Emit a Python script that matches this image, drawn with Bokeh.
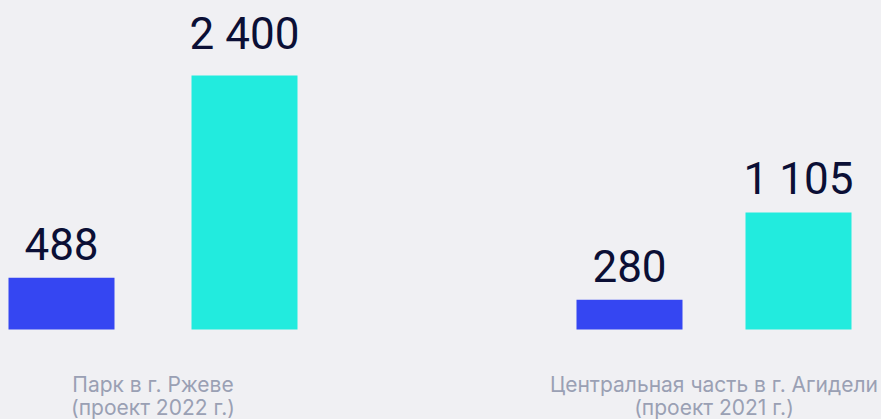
from bokeh.plotting import figure
from bokeh.models import ColumnDataSource, Range1d
from bokeh.core.properties import value
from bokeh.embed import file_html
from bokeh.resources import INLINE

# ---- data ----
categories = ["Парк в г. Ржеве\n(проект 2022 г.)",
              "Центральная часть в г. Агидели\n(проект 2021 г.)"]
series_a = [488, 280]      # blue
series_b = [2400, 1105]    # cyan

# ---- layout / style ----
W, H = 881, 419
BG = "#f0f0f3"
BLUE = "#3546f2"
CYAN = "#22ebde"
NAVY = "#0b0f35"
GREY = "#9aa0b4"
bar_x_a = [61, 629]
bar_x_b = [244, 798]
group_x = [(a + b) / 2 for a, b in zip(bar_x_a, bar_x_b)]
bar_w = 106
base_px = 329          # screen y of the zero line
top_px = 75            # screen y of the max value
vmax = max(series_b)
k = (base_px - top_px) / vmax
y0 = -(H - base_px) / k
y1 = y0 + H / k

def fmt(v):
    return f"{v:,}".replace(",", " ")

p = figure(width=W, height=H, output_backend="svg", toolbar_location=None,
           x_range=Range1d(0, W), y_range=Range1d(y0, y1), min_border=0,
           background_fill_color=BG, border_fill_color=BG, outline_line_color=None)
p.axis.visible = False
p.grid.visible = False

src_a = ColumnDataSource(dict(x=bar_x_a, top=series_a, lab=[fmt(v) for v in series_a],
                              off=[-34] * len(series_a)))
src_b = ColumnDataSource(dict(x=bar_x_b, top=series_b, lab=[fmt(v) for v in series_b],
                              off=[-42 if v == vmax else -34 for v in series_b]))

for src, col in ((src_a, BLUE), (src_b, CYAN)):
    p.vbar(x="x", top="top", bottom=0, width=bar_w, source=src,
           fill_color=col, line_color=None)
    p.text(x="x", y="top", text="lab", y_offset="off", source=src,
           text_align="center", text_baseline="alphabetic",
           text_font=value("Roboto"), text_font_size="44px", text_color=NAVY)

line1 = [c.split("\n")[0] for c in categories]
line2 = [c.split("\n")[1] for c in categories]
for lines, off in ((line1, 55), (line2, 78)):
    p.text(x=group_x, y=[0] * len(lines), text=lines, y_offset=off,
           text_align="center", text_baseline="alphabetic",
           text_font=value("Inter"), text_font_size="21px", text_color=GREY)

html = file_html(p, INLINE)
html = html.replace("</head>",
                    "<style>html,body{margin:0!important;padding:0;background:%s;overflow:hidden}</style></head>" % BG)
open("out.html", "w").write(html)
